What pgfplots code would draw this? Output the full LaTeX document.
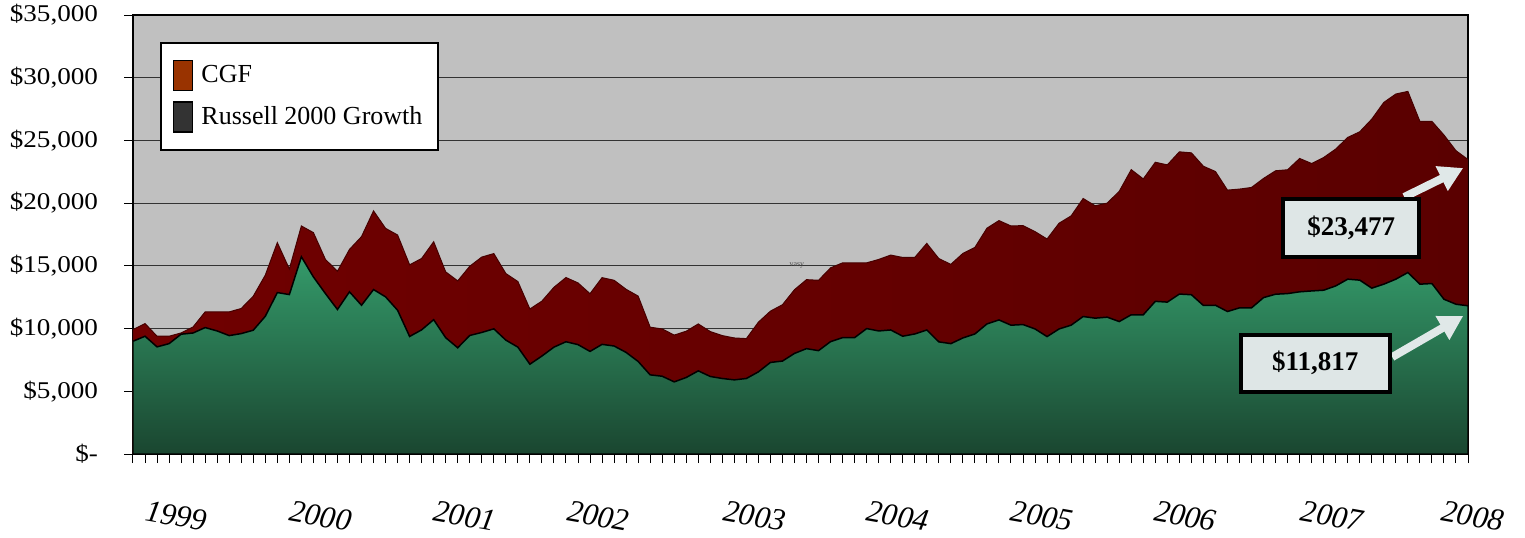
\documentclass[border=0pt]{standalone}
\usepackage{fontspec}
\setmainfont{Liberation Serif}
\usepackage{pgfplots}
\usepackage{pgfplotstable}
\pgfplotsset{compat=1.18}
\usetikzlibrary{arrows.meta}
\definecolor{bggray}{RGB}{192,192,192}
\definecolor{cgfL}{RGB}{112,0,0}
\definecolor{cgfR}{RGB}{90,0,0}
\definecolor{cgfline}{RGB}{70,0,0}
\definecolor{gtop}{RGB}{52,154,106}
\definecolor{gmid}{RGB}{40,120,82}
\definecolor{gbot}{RGB}{26,70,48}
\definecolor{cgfleg}{RGB}{153,51,0}
\definecolor{rusleg}{RGB}{51,51,51}
\definecolor{boxc}{RGB}{222,230,230}
\definecolor{arrowc}{RGB}{224,232,232}

\pgfplotstableread{
i cgf r2g
0 9.92 8.99
1 10.40 9.39
2 9.39 8.54
3 9.39 8.80
4 9.65 9.55
5 10.13 9.65
6 11.33 10.08
7 11.33 9.81
8 11.33 9.44
9 11.60 9.60
10 12.58 9.87
11 14.26 10.98
12 16.85 12.87
13 14.75 12.71
14 18.18 15.72
15 17.65 14.12
16 15.51 12.79
17 14.57 11.52
18 16.31 12.93
19 17.33 11.86
20 19.38 13.11
21 17.99 12.53
22 17.46 11.46
23 15.08 9.37
24 15.59 9.90
25 16.92 10.71
26 14.52 9.27
27 13.80 8.47
28 14.97 9.45
29 15.70 9.69
30 15.98 9.98
31 14.39 9.08
32 13.75 8.52
33 11.56 7.16
34 12.19 7.81
35 13.29 8.52
36 14.07 8.95
37 13.64 8.72
38 12.78 8.18
39 14.06 8.74
40 13.85 8.61
41 13.13 8.10
42 12.59 7.38
43 10.11 6.31
44 9.97 6.20
45 9.48 5.75
46 9.79 6.10
47 10.37 6.63
48 9.76 6.18
49 9.44 6.02
50 9.25 5.91
51 9.20 6.02
52 10.51 6.55
53 11.39 7.30
54 11.90 7.41
55 13.10 8.02
56 13.90 8.40
57 13.85 8.24
58 14.84 8.96
59 15.24 9.28
60 15.24 9.28
61 15.24 10.00
62 15.51 9.81
63 15.86 9.89
64 15.67 9.39
65 15.67 9.57
66 16.79 9.89
67 15.58 8.94
68 15.12 8.80
69 15.99 9.25
70 16.47 9.57
71 18.00 10.37
72 18.61 10.69
73 18.18 10.27
74 18.21 10.32
75 17.73 9.97
76 17.14 9.36
77 18.40 9.97
78 18.98 10.27
79 20.37 10.96
80 19.79 10.83
81 20.00 10.91
82 20.94 10.56
83 22.67 11.10
84 21.93 11.10
85 23.26 12.17
86 23.05 12.11
87 24.09 12.75
88 24.01 12.70
89 22.94 11.84
90 22.52 11.86
91 21.04 11.36
92 21.12 11.65
93 21.25 11.65
94 21.97 12.47
95 22.58 12.74
96 22.66 12.79
97 23.56 12.93
98 23.16 13.00
99 23.64 13.06
100 24.31 13.40
101 25.24 13.94
102 25.69 13.86
103 26.70 13.22
104 28.03 13.54
105 28.70 13.94
106 28.91 14.47
107 26.52 13.54
108 26.52 13.59
109 25.43 12.34
110 24.18 11.94
111 23.477 11.817
}\datatable

\tikzset{yearlab/.style={font=\itshape\fontsize{15.5bp}{17bp}\selectfont, rotate=-10, anchor=center, inner sep=0pt}}

\begin{document}
\begin{tikzpicture}
\useasboundingbox (-66.5bp,-42bp) rectangle (696bp,227bp);
\begin{axis}[
  scale only axis,
  width=667.5bp, height=219.5bp,
  at={(0,0)}, anchor=south west,
  xmin=0, xmax=111, ymin=0, ymax=35,
  axis background/.style={fill=bggray},
  axis line style={black, line width=0.7bp},
  ytick={0,5,...,35},
  yticklabels={{\$-},{\$5,000},{\$10,000},{\$15,000},{\$20,000},{\$25,000},{\$30,000},{\$35,000}},
  yticklabel style={font=\fontsize{12bp}{14bp}\selectfont, xscale=1.13, anchor=east, xshift=-8bp},
  xtick={0,...,111},
  xticklabel={\mbox{}},
  tick align=outside,
  tick pos=left,
  major tick length=4.5bp,
  tick style={black, line width=0.5bp},
  ymajorgrids,
  grid style={line width=0.6bp, color=black!80},
  clip mode=individual,
  legend image code/.code={\draw[#1, draw=black, line width=0.75bp] (0bp,-7.5bp) rectangle (9.5bp,7.5bp);},
  legend style={at={(axis description cs:0.0202,0.9385)}, anchor=north west,
    draw=black, line width=1bp, fill=white,
    font=\fontsize{13bp}{15bp}\selectfont,
    inner xsep=6bp, inner ysep=8.5bp, row sep=5bp, column sep=2bp,
    cells={anchor=west}},
  legend cell align=left,
]
\addplot[draw=cgfline, line width=0.5bp, left color=cgfL, right color=cgfR, forget plot]
  table[x=i, y=cgf]{\datatable} \closedcycle;
\addplot[draw=black, line width=0.75bp, top color=gtop, middle color=gmid, bottom color=gbot, forget plot]
  table[x=i, y=r2g]{\datatable} \closedcycle;

\addlegendimage{fill=cgfleg}
\addlegendentry{CGF}
\addlegendimage{fill=rusleg}
\addlegendentry{Russell 2000 Growth}

\node[font=\fontsize{4bp}{5bp}\selectfont, text=black!70] at (axis cs:55.2,15.07) {vasy};

\draw[-{Triangle[width=13bp,length=12bp]}, line width=4bp, color=arrowc] (axis cs:105.7,20.49) -- (axis cs:110.6,22.8);
\node[draw=black, line width=2bp, fill=boxc, minimum width=68bp, minimum height=29bp, font=\bfseries\fontsize{13.5bp}{15bp}\selectfont] at (axis cs:101.3,18.02) {\$23,477};
\draw[-{Triangle[width=13bp,length=12bp]}, line width=4bp, color=arrowc] (axis cs:104.7,7.73) -- (axis cs:110.6,11.0);
\node[draw=black, line width=2bp, fill=boxc, minimum width=74.5bp, minimum height=28.5bp, font=\bfseries\fontsize{13.5bp}{15bp}\selectfont] at (axis cs:98.3,7.255) {\$11,817};

\node[yearlab] at ([yshift=-31bp]axis cs:3.6,0) {1999};
\node[yearlab] at ([yshift=-31bp]axis cs:15.6,0) {2000};
\node[yearlab] at ([yshift=-31bp]axis cs:27.6,0) {2001};
\node[yearlab] at ([yshift=-31bp]axis cs:38.7,0) {2002};
\node[yearlab] at ([yshift=-31bp]axis cs:51.7,0) {2003};
\node[yearlab] at ([yshift=-31bp]axis cs:63.6,0) {2004};
\node[yearlab] at ([yshift=-31bp]axis cs:75.6,0) {2005};
\node[yearlab] at ([yshift=-31bp]axis cs:87.5,0) {2006};
\node[yearlab] at ([yshift=-31bp]axis cs:99.7,0) {2007};
\node[yearlab] at ([yshift=-31bp]axis cs:111.4,0) {2008};
\end{axis}
\end{tikzpicture}
\end{document}
